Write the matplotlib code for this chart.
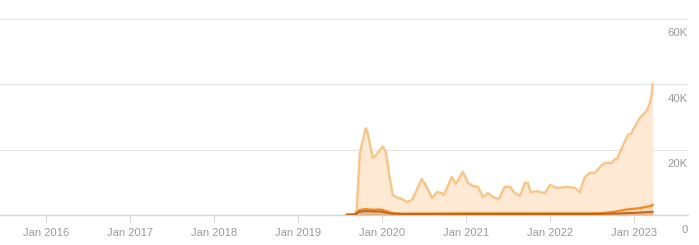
import matplotlib
matplotlib.use("Agg")
import matplotlib.pyplot as plt
import matplotlib.transforms as mtransforms
import pandas as pd

plt.rcParams['font.family'] = ['Liberation Sans', 'DejaVu Sans']

# Light series (main area)
main_dates = ["2019-08-01", "2019-09-05", "2019-09-13", "2019-09-27", "2019-10-23", "2019-10-31",
              "2019-11-22", "2019-12-14", "2020-01-04", "2020-01-18", "2020-02-04", "2020-02-17",
              "2020-03-10", "2020-03-27", "2020-04-18", "2020-05-10", "2020-05-27", "2020-06-22",
              "2020-07-14", "2020-08-05", "2020-08-27", "2020-09-17", "2020-09-26", "2020-10-31",
              "2020-11-17", "2020-12-18", "2021-01-09", "2021-01-30", "2021-02-21", "2021-03-15",
              "2021-04-06", "2021-04-27", "2021-05-23", "2021-06-18", "2021-07-10", "2021-08-01",
              "2021-08-23", "2021-09-13", "2021-09-26", "2021-10-09", "2021-11-04", "2021-12-09",
              "2022-01-01", "2022-01-30", "2022-03-15", "2022-04-19", "2022-05-10", "2022-06-01",
              "2022-06-23", "2022-07-15", "2022-08-14", "2022-08-27", "2022-09-26", "2022-10-09",
              "2022-10-18", "2022-11-09", "2022-12-05", "2022-12-22", "2022-12-27", "2023-01-26",
              "2023-02-26", "2023-03-10", "2023-03-19", "2023-03-23"]
main_vals = [0, 300, 1500, 19000, 26600, 25000,
             17400, 19000, 21000, 19300, 11300, 6100,
             5200, 4900, 4000, 4600, 7000, 11000,
             8600, 5200, 7000, 6700, 6100, 11600,
             9500, 13200, 9800, 8900, 8600, 5500,
             6700, 5500, 4900, 8600, 8600, 6700,
             5800, 9800, 9800, 7000, 7300, 6700,
             9200, 8300, 8600, 8300, 7000, 11600,
             12900, 12900, 15300, 15900, 15900, 17100,
             17000, 20500, 24500, 25000, 26000, 29700,
             32000, 34000, 37000, 40000]

# Mid orange series
mid_dates = ["2019-08-01", "2019-09-05", "2019-09-25", "2019-10-20", "2019-11-23", "2019-12-22",
             "2020-01-05", "2020-02-13", "2020-04-01", "2021-01-01", "2022-01-01", "2022-07-01",
             "2022-08-15", "2022-10-10", "2022-12-01", "2023-01-14", "2023-02-09", "2023-03-11",
             "2023-03-23"]
mid_vals = [100, 200, 1500, 1800, 1600, 1700,
            1500, 600, 400, 500, 500, 500,
            600, 1000, 1700, 2000, 2300, 2700,
            3100]

# Dark series
dark_dates = ["2019-08-01", "2019-09-05", "2019-09-25", "2019-10-20", "2019-11-23", "2019-12-22",
              "2020-02-13", "2020-04-01", "2021-01-01", "2022-01-01", "2022-08-01", "2022-11-01",
              "2023-01-14", "2023-03-23"]
dark_vals = [50, 100, 1000, 1200, 1100, 1100,
             400, 300, 300, 300, 300, 500,
             700, 1000]

yticks = [0, 20000, 40000, 60000]
ytick_labels = ["0", "20K", "40K", "60K"]
xtick_years = [2016, 2017, 2018, 2019, 2020, 2021, 2022, 2023]

fig = plt.figure(figsize=(6.99, 2.45), dpi=100)
ax = fig.add_axes([0, 30/245, 688/699, 196/245])

md = pd.to_datetime(main_dates)
mi = pd.to_datetime(mid_dates)
dk = pd.to_datetime(dark_dates)

ax.fill_between(md, main_vals, 0, color="#fde9d4", lw=0, zorder=2)
ax.plot(md, main_vals, color="#f7c586", lw=1.7, zorder=3, solid_joinstyle='round')
ax.fill_between(mi, mid_vals, 0, color="#f6b87a", alpha=0.35, lw=0, zorder=4)
ax.plot(mi, mid_vals, color="#ee8a22", lw=1.6, zorder=5, solid_joinstyle='round')
ax.fill_between(dk, dark_vals, 0, color="#b87a4a", alpha=0.35, lw=0, zorder=6)
ax.plot(dk, dark_vals, color="#c2661c", lw=1.4, zorder=7, solid_joinstyle='round')

# x limits: pixel 0 -> date, pixel 688 -> date (84 px per year, Jan 2016 at px 46)
def px_to_date(px):
    yrs = 2016 + (px - 46) / 84.0
    y = int(yrs)
    start = pd.Timestamp(f"{y}-01-01")
    end = pd.Timestamp(f"{y+1}-01-01")
    return start + (end - start) * (yrs - y)

ax.set_xlim(px_to_date(0), px_to_date(688))
ax.set_ylim(0, 60000)

ax.set_xticks([pd.Timestamp(f"{y}-01-01") for y in xtick_years])
ax.set_xticklabels([f"Jan {y}" for y in xtick_years])
ax.tick_params(axis='x', length=5, width=0.8, color="#d9d9d9", labelcolor="#999999",
               labelsize=8, pad=4.5)

ax.yaxis.tick_right()
ax.set_yticks(yticks)
ax.set_yticklabels(ytick_labels)
ax.tick_params(axis='y', length=0, labelcolor="#999999", labelsize=8.2, pad=0)
offset = mtransforms.ScaledTranslation(0, -9.5/100, fig.dpi_scale_trans)
for lab in ax.get_yticklabels():
    lab.set_horizontalalignment('right')
    lab.set_verticalalignment('top')
    lab.set_transform(lab.get_transform() + offset)

ax.grid(axis='y', color="#e6e6e6", lw=0.8, zorder=0)
ax.set_axisbelow(True)
for s in ['top', 'left', 'right']:
    ax.spines[s].set_visible(False)
ax.spines['bottom'].set_color("#d9d9d9")
ax.spines['bottom'].set_linewidth(1.0)
ax.spines['bottom'].set_zorder(1)
ax.set_facecolor("white")

fig.savefig("out.png", dpi=100, facecolor="white")
